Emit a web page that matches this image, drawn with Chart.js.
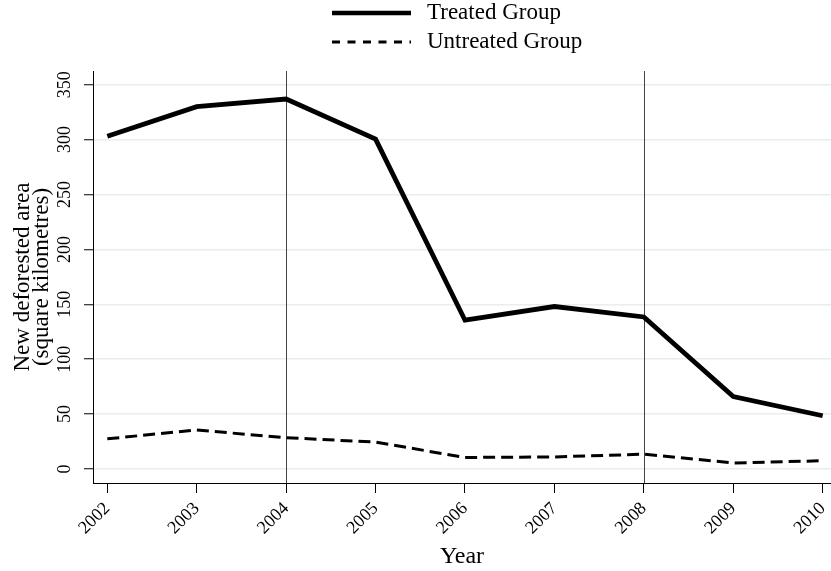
<!DOCTYPE html>
<html>
<head>
<meta charset="utf-8">
<title>New deforested area</title>
<script src="https://cdn.jsdelivr.net/npm/chart.js@4/dist/chart.umd.min.js"></script>
<style>
  html, body { margin: 0; padding: 0; background: #fff; }
  canvas { display: block; }
</style>
</head>
<body>
<canvas id="chart" width="831" height="571"></canvas>
<script>
const years = [2002, 2003, 2004, 2005, 2006, 2007, 2008, 2009, 2010];
const treated = [303, 330, 337, 300.5, 135.5, 148, 138.5, 66, 48.5];
const untreated = [27.5, 35.5, 28.5, 24.5, 10.5, 11, 13.5, 5.5, 7.5];
const yTickValues = [0, 50, 100, 150, 200, 250, 300, 350];
const markerYears = [2004, 2008];

const serif = "'Liberation Serif', 'Times New Roman', serif";

// thin vertical reference lines at the marked years
const markerLines = {
  id: 'markerLines',
  beforeDatasetsDraw(chart) {
    const { ctx, chartArea, scales } = chart;
    ctx.save();
    ctx.strokeStyle = '#444';
    ctx.lineWidth = 1;
    markerYears.forEach(yr => {
      const x = Math.round(scales.x.getPixelForValue(yr)) + 0.5;
      ctx.beginPath();
      ctx.moveTo(x, chartArea.top);
      ctx.lineTo(x, chartArea.bottom);
      ctx.stroke();
    });
    ctx.restore();
  }
};

// stacked legend above the plot, one entry per row
const stackedLegend = {
  id: 'stackedLegend',
  afterDraw(chart) {
    const { ctx } = chart;
    const cx = 457;
    const rows = [13, 42];
    ctx.save();
    chart.data.datasets.forEach((ds, i) => {
      const y = rows[i];
      ctx.strokeStyle = ds.borderColor;
      ctx.lineWidth = ds.legendWidth;
      ctx.setLineDash(ds.legendDash);
      ctx.beginPath();
      ctx.moveTo(cx - 125, y);
      ctx.lineTo(cx - 46, y);
      ctx.stroke();
      ctx.setLineDash([]);
      ctx.fillStyle = '#000';
      ctx.font = '23px ' + serif;
      ctx.textAlign = 'left';
      ctx.textBaseline = 'middle';
      ctx.fillText(ds.label, cx - 30, y);
    });
    ctx.restore();
  }
};

// keep the plot box fixed, ignore label overhang padding
function noOverhang(scale) {
  scale.paddingLeft = 0;
  scale.paddingRight = 0;
  scale.paddingTop = 0;
  scale.paddingBottom = 0;
}

new Chart(document.getElementById('chart'), {
  type: 'line',
  data: {
    datasets: [
      {
        label: 'Treated Group',
        data: years.map((yr, i) => ({ x: yr, y: treated[i] })),
        borderColor: '#000',
        borderWidth: 4.8,
        borderDash: [],
        legendWidth: 4.5,
        legendDash: [],
        pointRadius: 0,
        tension: 0
      },
      {
        label: 'Untreated Group',
        data: years.map((yr, i) => ({ x: yr, y: untreated[i] })),
        borderColor: '#000',
        borderWidth: 3,
        borderDash: [12, 6],
        legendWidth: 3,
        legendDash: [8, 7.5],
        pointRadius: 0,
        tension: 0
      }
    ]
  },
  options: {
    responsive: false,
    devicePixelRatio: 1,
    animation: false,
    layout: { padding: { top: 71, right: 0, bottom: 0, left: 0 } },
    plugins: {
      legend: { display: false },
      tooltip: { enabled: false }
    },
    scales: {
      x: {
        type: 'linear',
        min: 2001.84,
        max: 2010.093,
        afterBuildTicks: scale => { scale.ticks = years.map(v => ({ value: v })); },
        afterFit: scale => { scale.height = 88; noOverhang(scale); },
        grid: { drawOnChartArea: false, drawTicks: true, tickLength: 10, tickColor: '#000' },
        border: { color: '#000', width: 1 },
        ticks: {
          minRotation: 45,
          maxRotation: 45,
          padding: 0,
          color: '#000',
          font: { family: serif, size: 18, lineHeight: 2 },
          callback: v => String(v)
        },
        title: {
          display: true,
          text: 'Year',
          color: '#000',
          font: { family: serif, size: 24, lineHeight: 1 },
          padding: { top: 0, bottom: 2 }
        }
      },
      y: {
        min: -12.75,
        max: 362.5,
        afterBuildTicks: scale => { scale.ticks = yTickValues.map(v => ({ value: v })); },
        afterFit: scale => { scale.width = 93; noOverhang(scale); },
        grid: { color: '#e6eef0', lineWidth: 1.5, tickLength: 9, tickColor: '#000', tickWidth: 1 },
        border: { color: '#000', width: 1 },
        ticks: {
          minRotation: 90,
          maxRotation: 90,
          crossAlign: 'center',
          padding: 5,
          color: '#000',
          font: { family: serif, size: 18 }
        },
        title: {
          display: true,
          text: ['New deforested area', '(square kilometres)'],
          color: '#000',
          font: { family: serif, size: 23, lineHeight: 0.8 },
          padding: { top: 14, bottom: 0 }
        }
      }
    }
  },
  plugins: [markerLines, stackedLegend]
});
</script>
</body>
</html>
